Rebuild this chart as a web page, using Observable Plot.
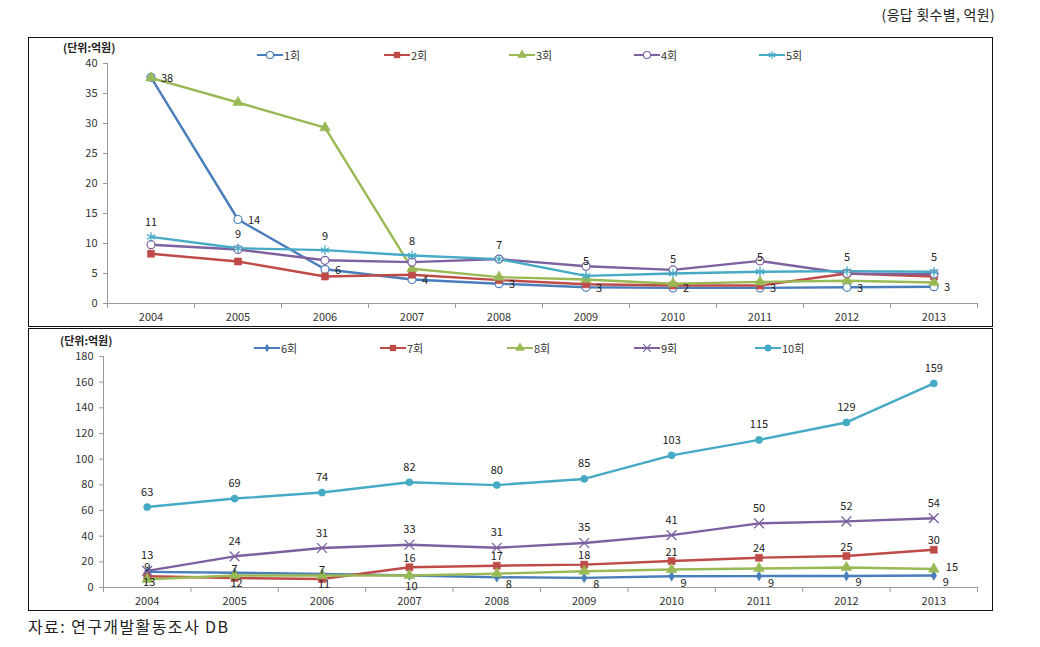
<!DOCTYPE html>
<html><head><meta charset="utf-8">
<script src="https://cdn.jsdelivr.net/npm/d3@7"></script>
<script src="https://cdn.jsdelivr.net/npm/@observablehq/plot@0.6"></script>
<style>
body{margin:0;background:#fff;font-family:'Noto Sans CJK KR','Noto Sans',sans-serif;}
#root{position:relative;width:1040px;height:647px;overflow:hidden;}
.abs{position:absolute;}
.box{position:absolute;border:1.6px solid #111;box-sizing:border-box;pointer-events:none;}
.lg{position:absolute;font-size:11px;color:#333;line-height:12px;white-space:nowrap;}
.unit{position:absolute;font-size:11px;font-weight:bold;color:#222;white-space:nowrap;line-height:12px;}
</style></head>
<body><div id="root"></div>
<script>
// ---------- data ----------
const years = [2004, 2005, 2006, 2007, 2008, 2009, 2010, 2011, 2012, 2013];
// top panel (1~5회)
const r1 = [37.7, 14.0, 5.7, 4.0, 3.3, 2.7, 2.6, 2.6, 2.7, 2.8];
const r2 = [8.3, 7.0, 4.5, 4.8, 3.9, 3.2, 3.0, 3.0, 5.0, 4.5];
const r3 = [37.6, 33.5, 29.3, 5.8, 4.4, 4.0, 3.3, 3.6, 3.8, 3.5];
const r4 = [9.8, 9.0, 7.2, 6.9, 7.4, 6.2, 5.6, 7.1, 5.0, 4.9];
const r5 = [11.1, 9.2, 8.9, 8.0, 7.4, 4.6, 5.0, 5.3, 5.4, 5.3];
const r1Labels = ["38", "14", "6", "4", "3", "3", "2", "3", "3", "3"];
const r5Labels = ["11", "9", "9", "8", "7", "5", "5", "5", "5", "5"];
// bottom panel (6~10회)
const r6 = [12.2, 11.5, 10.6, 9.4, 8.0, 7.5, 8.8, 8.9, 9.0, 9.3];
const r7 = [8.8, 7.4, 6.6, 15.8, 17.0, 17.8, 20.6, 23.2, 24.5, 29.4];
const r8 = [6.4, 9.4, 9.4, 9.4, 10.8, 12.7, 14.0, 14.8, 15.6, 14.4];
const r9 = [13.0, 24.3, 30.8, 33.3, 31.0, 34.7, 40.8, 50.0, 51.5, 54.0];
const r10 = [62.7, 69.3, 74.0, 82.0, 79.8, 84.6, 103.0, 115.0, 128.6, 159.0];
const r6Labels = ["13", "12", "11", "10", "8", "8", "9", "9", "9", "9"];
const r7Labels = ["9", "7", "7", "16", "17", "18", "21", "24", "25", "30"];
const r8Labels = ["", "", "", "", "", "", "", "", "", "15"];
const r9Labels = ["13", "24", "31", "33", "31", "35", "41", "50", "52", "54"];
const r10Labels = ["63", "69", "74", "82", "80", "85", "103", "115", "129", "159"];
const topTicks = [0, 5, 10, 15, 20, 25, 30, 35, 40];
const bottomTicks = [0, 20, 40, 60, 80, 100, 120, 140, 160, 180];

const BLUE = "#4A7EBB", RED = "#BE4B48", GREEN = "#98B954", PURPLE = "#7D60A0", CYAN = "#46AAC5";

const topSeries = [
  {name: "1회", values: r1, color: BLUE, symbol: "circle", open: true},
  {name: "2회", values: r2, color: RED, symbol: "square"},
  {name: "3회", values: r3, color: GREEN, symbol: "triangle"},
  {name: "4회", values: r4, color: PURPLE, symbol: "circle", open: true},
  {name: "5회", values: r5, color: CYAN, symbol: "asterisk", stroked: true}
];
const bottomSeries = [
  {name: "6회", values: r6, color: BLUE, symbol: "diamond", small: true},
  {name: "7회", values: r7, color: RED, symbol: "square"},
  {name: "8회", values: r8, color: GREEN, symbol: "triangle"},
  {name: "9회", values: r9, color: PURPLE, symbol: "times", stroked: true},
  {name: "10회", values: r10, color: CYAN, symbol: "circle", filled: true}
];

const rows = s => years.map((y, i) => ({year: y, value: s.values[i]}));
const labelRows = (s, labels) => years.map((y, i) => ({year: y, value: s.values[i], label: labels[i], i}));
const bounds = d3.range(2003.5, 2014, 1);
const FONT = "'Noto Sans CJK KR','Noto Sans',sans-serif";

function seriesMarks(list) {
  const marks = [];
  for (const s of list) {
    marks.push(Plot.line(rows(s), {x: "year", y: "value", stroke: s.color, strokeWidth: 2.4}));
  }
  for (const s of list) {
    let o;
    if (s.stroked) o = {stroke: s.color, fill: "none", strokeWidth: 1.3, r: 4.5};
    else if (s.open) o = {stroke: s.color, fill: "white", strokeWidth: 1.2, r: 4};
    else o = {fill: s.color, stroke: s.color, strokeWidth: 0.5, r: s.small ? 3 : (s.filled ? 3.6 : 4)};
    marks.push(Plot.dot(rows(s), {x: "year", y: "value", symbol: s.symbol, ...o}));
  }
  return marks;
}

function axes(ticks) {
  return [
    Plot.ruleY([0], {stroke: "#9a9a9a"}),
    Plot.ruleX([2003.5], {stroke: "#9a9a9a"}),
    Plot.axisY({ticks, tickSize: 4, stroke: "#9a9a9a", fill: "#333", tickPadding: 6, label: null, tickFormat: d => String(d)}),
    Plot.axisX({ticks: bounds, tickSize: 5, stroke: "#9a9a9a", tickFormat: () => "", label: null}),
    Plot.axisX({ticks: years, tickSize: 0, tickPadding: 10, fill: "#333", tickFormat: d => String(d), label: null})
  ];
}

const textStyle = {fontSize: 11, fill: "#222", fontFamily: FONT};

const topPlot = Plot.plot({
  width: 964, height: 289,
  marginLeft: 79, marginRight: 15, marginTop: 26, marginBottom: 23,
  x: {type: "linear", domain: [2003.5, 2013.5]},
  y: {domain: [0, 40]},
  style: {fontFamily: FONT, fontSize: "11px", background: "transparent", overflow: "visible"},
  marks: [
    ...axes(topTicks),
    ...seriesMarks(topSeries),
    Plot.text(labelRows(topSeries[4], r5Labels), {x: "year", y: "value", text: "label", dy: -14, ...textStyle}),
    Plot.text(labelRows(topSeries[0], r1Labels), {x: "year", y: "value", text: "label", dx: 10, dy: 1, textAnchor: "start", ...textStyle})
  ]
});

const bottomPlot = Plot.plot({
  width: 964, height: 282,
  marginLeft: 75, marginRight: 15, marginTop: 28, marginBottom: 23,
  x: {type: "linear", domain: [2003.5, 2013.5]},
  y: {domain: [0, 180]},
  style: {fontFamily: FONT, fontSize: "11px", background: "transparent", overflow: "visible"},
  marks: [
    ...axes(bottomTicks),
    ...seriesMarks(bottomSeries),
    Plot.text(labelRows(bottomSeries[4], r10Labels), {x: "year", y: "value", text: "label", dy: -15, ...textStyle}),
    Plot.text(labelRows(bottomSeries[3], r9Labels), {x: "year", y: "value", text: "label", dy: -15, ...textStyle}),
    Plot.text(labelRows(bottomSeries[1], r7Labels), {x: "year", y: "value", text: "label", dy: -9, ...textStyle}),
    Plot.text(labelRows(bottomSeries[0], r6Labels).filter(d => d.i < 4), {x: "year", y: "value", text: "label", dx: 2, dy: 11, ...textStyle}),
    Plot.text(labelRows(bottomSeries[0], r6Labels).filter(d => d.i >= 4), {x: "year", y: "value", text: "label", dx: 9, dy: 7, textAnchor: "start", ...textStyle}),
    Plot.text(labelRows(bottomSeries[2], r8Labels).filter(d => d.label), {x: "year", y: "value", text: "label", dx: 12, dy: -2, textAnchor: "start", ...textStyle})
  ]
});

// ---------- layout ----------
const root = document.getElementById("root");
function place(el, left, top) { el.style.position = "absolute"; el.style.left = left + "px"; el.style.top = top + "px"; root.appendChild(el); }
place(topPlot, 28, 37);
place(bottomPlot, 28, 328);

function box(l, t, w, h) { const d = document.createElement("div"); d.className = "box"; d.style.left = l + "px"; d.style.top = t + "px"; d.style.width = w + "px"; d.style.height = h + "px"; root.appendChild(d); }
box(28, 37, 965, 290);
box(28, 328, 965, 283);

function text(cls, str, l, t, extra) { const d = document.createElement("div"); d.className = cls; d.textContent = str; d.style.left = l + "px"; d.style.top = t + "px"; if (extra) Object.assign(d.style, extra); root.appendChild(d); return d; }
text("unit", "(단위:억원)", 63, 41);
text("unit", "(단위:억원)", 60, 334);
text("abs", "(응답 횟수별, 억원)", 0, 5, {left: "auto", right: "45px", fontSize: "14px", letterSpacing: "0.3px", color: "#222", whiteSpace: "nowrap", lineHeight: "18px"});
text("abs", "자료: 연구개발활동조사 DB", 28, 616, {fontSize: "16px", letterSpacing: "1.4px", color: "#222", whiteSpace: "nowrap", lineHeight: "20px"});

function legend(list, xs, cy) {
  list.forEach((s, i) => {
    const svg = d3.create("svg").attr("width", 26).attr("height", 12).style("position", "absolute")
      .style("left", (xs[i] - 13) + "px").style("top", (cy - 6) + "px").style("overflow", "visible");
    svg.append("line").attr("x1", 0).attr("x2", 26).attr("y1", 6).attr("y2", 6).attr("stroke", s.color).attr("stroke-width", 2);
    const symMap = {circle: d3.symbolCircle, square: d3.symbolSquare, triangle: d3.symbolTriangle, diamond: d3.symbolDiamond, asterisk: d3.symbolAsterisk, times: d3.symbolTimes};
    const size = s.small ? 22 : 40;
    const p = svg.append("path").attr("d", d3.symbol(symMap[s.symbol], size)()).attr("transform", "translate(13,6)");
    if (s.stroked) p.attr("fill", "none").attr("stroke", s.color).attr("stroke-width", 1.2);
    else if (s.open) p.attr("fill", "white").attr("stroke", s.color).attr("stroke-width", 1.1);
    else p.attr("fill", s.color);
    root.appendChild(svg.node());
    text("lg", s.name, xs[i] + 14, cy - 6);
  });
}
legend(topSeries, [270, 397, 522, 647, 772], 55);
legend(bottomSeries, [267, 393, 520, 647, 768], 348);
</script></body></html>
